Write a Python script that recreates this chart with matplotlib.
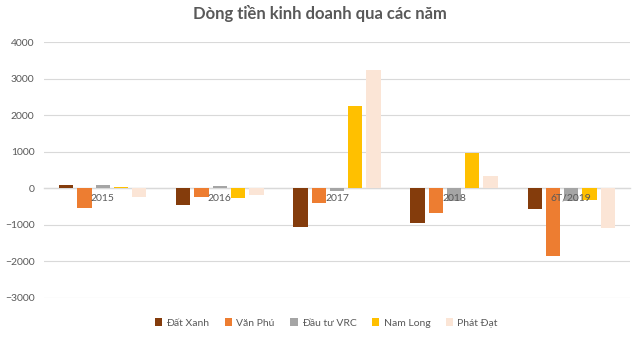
import numpy as np
import matplotlib
matplotlib.use("Agg")
import matplotlib.pyplot as plt

plt.rcParams['font.family'] = ['Lato', 'DejaVu Sans']

# dữ liệu (tỷ đồng)
years = ["2015", "2016", "2017", "2018", "6T/2019"]
dat_xanh = [100, -460, -1050, -960, -560]
van_phu = [-540, -235, -410, -690, -1845]
dau_tu_vrc = [80, 50, -80, -340, -340]
nam_long = [40, -265, 2245, 980, -310]
phat_dat = [-250, -180, 3250, 330, -1080]

series = [
    ("Đất Xanh", dat_xanh, "#843C0C"),
    ("Văn Phú", van_phu, "#ED7D31"),
    ("Đầu tư VRC", dau_tu_vrc, "#A5A5A5"),
    ("Nam Long", nam_long, "#FFC000"),
    ("Phát Đạt", phat_dat, "#FBE5D6"),
]

text_color = "#595959"
grid_color = "#D9D9D9"

fig = plt.figure(figsize=(6.4, 3.39), dpi=100)
ax = fig.add_axes([0.069, 0.122, 0.915, 0.753])

x = np.arange(len(years))
step = 0.156
width = 0.122
for i, (name, vals, color) in enumerate(series):
    ax.bar(x + (i - 2) * step, vals, width, color=color, label=name, zorder=3)

ax.set_xlim(-0.5, len(years) - 0.5)
ax.set_ylim(-3000, 4000)
ax.set_yticks(range(-3000, 4001, 1000))
ax.yaxis.grid(True, color=grid_color, linewidth=0.8)
ax.set_axisbelow(True)

for side in ["top", "right", "left"]:
    ax.spines[side].set_visible(False)
ax.spines["bottom"].set_position(("data", 0))
ax.spines["bottom"].set_color(grid_color)
ax.spines["bottom"].set_linewidth(1.0)
ax.spines["bottom"].set_zorder(2)

ax.set_xticks(x, years)
ax.xaxis.set_zorder(5)  # nhãn năm nằm đè lên cột như bản gốc
ax.tick_params(axis="x", length=0, pad=4, labelsize=7.5, labelcolor=text_color)
ax.tick_params(axis="y", length=0, pad=7, labelsize=7.5, labelcolor=text_color)

fig.suptitle("Dòng tiền kinh doanh qua các năm", x=0.5, y=0.985,
             fontsize=12, fontweight="bold", color=text_color)

leg = fig.legend(loc="center", bbox_to_anchor=(0.51, 0.047), ncol=5,
                 frameon=False, fontsize=7.5, handlelength=0.7, handleheight=0.7,
                 handletextpad=0.4, columnspacing=1.5)
for t in leg.get_texts():
    t.set_color(text_color)

fig.savefig("out.png", dpi=100)
